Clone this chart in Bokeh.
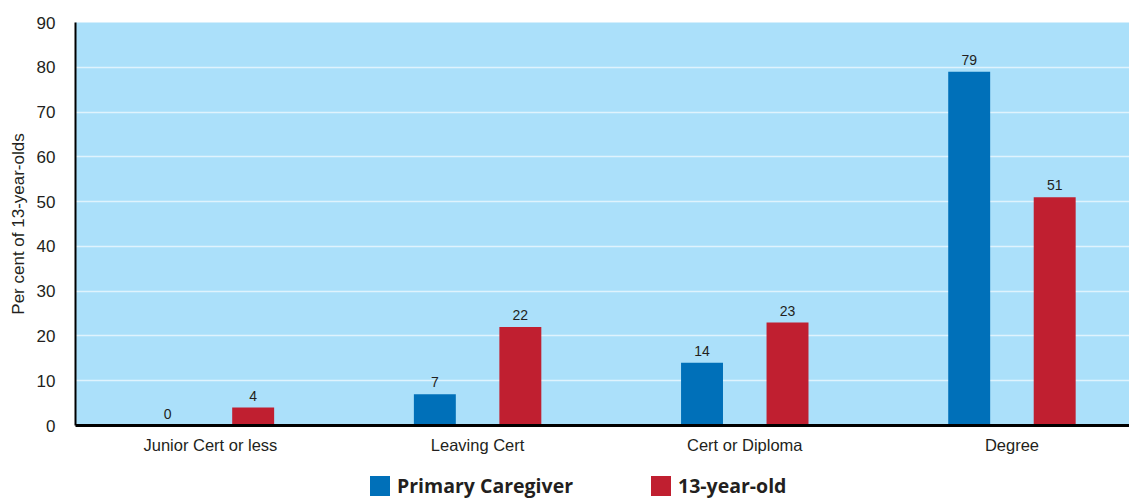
from bokeh.plotting import figure
from bokeh.layouts import column
from bokeh.models import ColumnDataSource, FixedTicker, Legend, LegendItem, Range1d
from bokeh.core.properties import value
from bokeh.transform import dodge
from bokeh.embed import file_html
from bokeh.resources import INLINE

categories = ["Junior Cert or less", "Leaving Cert", "Cert or Diploma", "Degree"]
caregiver = [0, 7, 14, 79]
teen = [4, 22, 23, 51]
series_names = ["Primary Caregiver", "13-year-old"]
y_ticks = [0, 10, 20, 30, 40, 50, 60, 70, 80, 90]

BLUE = "#0070b9"
RED = "#c01f30"
BG = "#abe0fa"
FONT = "Liberation Sans"
TXT = "#231f20"

xs = list(range(len(categories)))
src = ColumnDataSource(dict(
    x=xs, cg=caregiver, tn=teen,
    cg_lbl=[str(v) for v in caregiver], tn_lbl=[str(v) for v in teen],
))

p = figure(width=1129, height=460, output_backend="svg", toolbar_location=None,
           x_range=Range1d(-0.505, 3.44), y_range=Range1d(0, 90),
           min_border_left=75, min_border_right=0, min_border_top=22, min_border_bottom=35)
p.background_fill_color = BG
p.border_fill_color = "white"
p.outline_line_color = None

off = 0.16
w = 0.157
r1 = p.vbar(x=dodge("x", -off), top="cg", width=w, source=src, color=BLUE, line_color=None)
r2 = p.vbar(x=dodge("x", off), top="tn", width=w, source=src, color=RED, line_color=None)

p.text(x=dodge("x", -off), y="cg", text="cg_lbl", source=src, text_align="center",
       text_baseline="bottom", y_offset=-7, text_font=value(FONT), text_font_size="14px",
       text_color=TXT)
p.text(x=dodge("x", off), y="tn", text="tn_lbl", source=src, text_align="center",
       text_baseline="bottom", y_offset=-7, text_font=value(FONT), text_font_size="14px",
       text_color=TXT)

# grid
p.xgrid.grid_line_color = None
p.ygrid.ticker = FixedTicker(ticks=y_ticks)
p.ygrid.grid_line_color = "#dff3fd"
p.ygrid.grid_line_width = 1.5

# y axis
p.yaxis.ticker = FixedTicker(ticks=y_ticks)
p.yaxis.axis_label = "Per cent of 13-year-olds"
p.yaxis.axis_label_text_font = FONT
p.yaxis.axis_label_text_font_style = "normal"
p.yaxis.axis_label_text_font_size = "17px"
p.yaxis.axis_label_text_color = TXT
p.yaxis.axis_label_standoff = 6
p.yaxis.major_label_text_font = FONT
p.yaxis.major_label_text_font_size = "17px"
p.yaxis.major_label_text_color = TXT
p.yaxis.major_label_standoff = 14
p.yaxis.axis_line_color = "black"
p.yaxis.axis_line_width = 2
p.yaxis.major_tick_line_color = None
p.yaxis.minor_tick_line_color = None

# x axis
p.xaxis.ticker = FixedTicker(ticks=xs)
p.xaxis.major_label_overrides = {i: c for i, c in enumerate(categories)}
p.xaxis.major_label_text_font = FONT
p.xaxis.major_label_text_font_size = "16.5px"
p.xaxis.major_label_text_color = TXT
p.xaxis.major_label_standoff = 4
p.xaxis.axis_line_color = "black"
p.xaxis.axis_line_width = 3
p.xaxis.major_tick_line_color = None
p.xaxis.minor_tick_line_color = None

# legend strip (its frame is aligned with the main frame in the column)
lg = figure(width=1129, height=39, output_backend="svg", toolbar_location=None,
            x_range=Range1d(0, 1), y_range=Range1d(0, 1),
            min_border_left=0, min_border_right=0, min_border_top=0, min_border_bottom=0)
lg.axis.visible = False
lg.grid.visible = False
lg.outline_line_color = None
lg.background_fill_color = "white"
lg.border_fill_color = "white"
lr1 = lg.vbar(x=[5], top=[0], width=0.1, color=BLUE, line_color=None)
lr2 = lg.vbar(x=[5], top=[0], width=0.1, color=RED, line_color=None)

legend = Legend(
    items=[LegendItem(label=series_names[0], renderers=[lr1]),
           LegendItem(label=series_names[1], renderers=[lr2])],
    location=(292, 0), orientation="horizontal",
    glyph_width=25, glyph_height=25, label_standoff=5, label_width=251, spacing=0,
    padding=0, margin=0, border_line_color=None, background_fill_alpha=0,
    label_text_font="Open Sans", label_text_font_style="bold",
    label_text_font_size="19.5px", label_text_color=TXT, label_height=25,
)
lg.add_layout(legend, "center")

layout = column(p, lg, spacing=0)
open("out.html", "w").write(file_html(layout, INLINE))
